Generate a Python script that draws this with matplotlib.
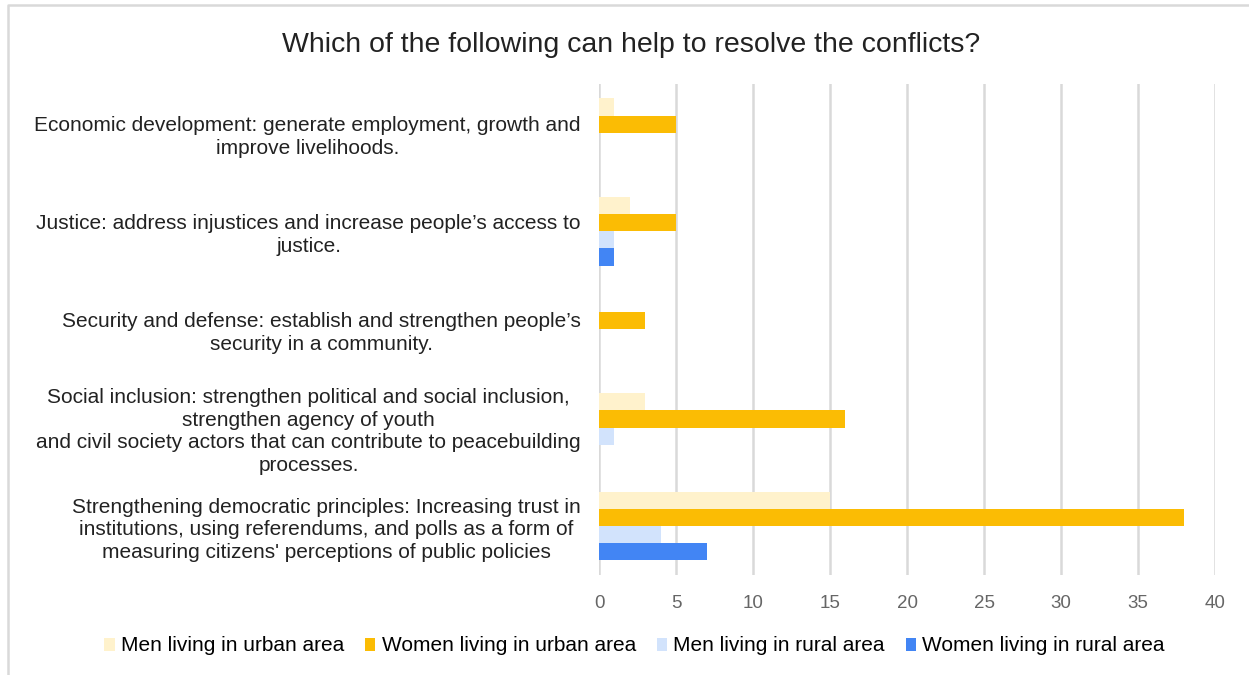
import matplotlib.pyplot as plt
import numpy as np
from matplotlib.lines import Line2D

plt.rcParams["font.family"] = ["Liberation Sans", "DejaVu Sans"]

categories = [
    "Economic development: generate employment, growth and\nimprove livelihoods.",
    "Justice: address injustices and increase people\u2019s access to\njustice.",
    "Security and defense: establish and strengthen people\u2019s\nsecurity in a community.",
    "Social inclusion: strengthen political and social inclusion,\nstrengthen agency of youth\n"
    "and civil society actors that can contribute to peacebuilding\nprocesses.",
    "Strengthening democratic principles: Increasing trust in\ninstitutions, using referendums, and polls as a form of\n"
    "measuring citizens' perceptions of public policies",
]
series_names = [
    "Men living in urban area",
    "Women living in urban area",
    "Men living in rural area",
    "Women living in rural area",
]
men_urban = [1, 2, 0, 3, 15]
women_urban = [5, 5, 3, 16, 38]
men_rural = [0, 1, 0, 1, 4]
women_rural = [0, 1, 0, 0, 7]
colors = ["#FFF2CC", "#FBBC04", "#D2E3FC", "#4285F4"]
x_ticks = [0, 5, 10, 15, 20, 25, 30, 35, 40]

fig = plt.figure(figsize=(12.49, 6.75), dpi=100)
ax = fig.add_axes([0.4796, 0.148, 0.4932, 0.728])

# light frame, only left and top edges visible in the screenshot
fig.add_artist(Line2D([0.0065, 0.0065, 1.0], [0.0, 0.993, 0.993], transform=fig.transFigure,
                      color="#D9D9D9", linewidth=1.8))

y = np.arange(len(categories))
h = 0.175
for i, (vals, name, col) in enumerate(zip([men_urban, women_urban, men_rural, women_rural],
                                         series_names, colors)):
    ax.barh(y + (i - 1.5) * h, vals, height=h, color=col, label=name, zorder=3)

ax.set_xlim(0, 40)
ax.set_ylim(len(categories) - 0.5, -0.5)
ax.set_xticks(x_ticks)
ax.set_yticks(y, labels=categories)
for lbl in ax.get_yticklabels():
    lbl.set_multialignment("center")
    lbl.set_linespacing(1.25)
ax.tick_params(axis="y", length=0, pad=13, labelsize=15, labelcolor="#222222")
ax.tick_params(axis="x", length=0, pad=14, labelsize=13.5, labelcolor="#666666")
ax.grid(axis="x", color="#D9D9D9", linewidth=1.8, zorder=0)
for s in ax.spines.values():
    s.set_visible(False)

fig.suptitle("Which of the following can help to resolve the conflicts?",
             fontsize=20.5, x=0.505, y=0.952, color="#222222")

fig.legend(loc="center", bbox_to_anchor=(0.508, 0.043), ncol=4, frameon=False,
           fontsize=15, handlelength=0.5, handleheight=0.6, handletextpad=0.3,
           columnspacing=1.0)

fig.savefig("out.png", dpi=100)
